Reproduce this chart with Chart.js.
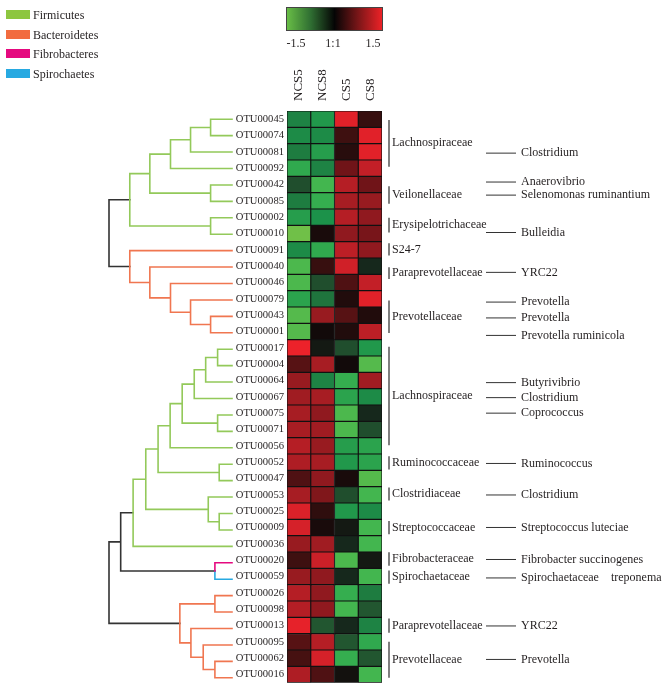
<!DOCTYPE html>
<html><head><meta charset="utf-8">
<script src="https://cdn.jsdelivr.net/npm/chart.js@4.4.1/dist/chart.umd.min.js"></script>
<style>
body{margin:0;background:#fff;font-family:"Liberation Serif","Times New Roman",serif;color:#231f20;}
#wrap{position:relative;width:666px;height:692px;overflow:hidden;background:#fff;}
canvas{position:absolute;left:0;top:0;}
.lg{position:absolute;left:6px;height:14px;font-size:12px;line-height:14px;white-space:nowrap;}
.lg i{position:absolute;left:0;top:2px;width:24px;height:9px;}
.lg span{position:absolute;left:27px;top:0;}
#cbar{position:absolute;left:286px;top:7px;width:95px;height:22px;border:1px solid #444;
 background:linear-gradient(to right,#68bd46 0%,#2f6e32 25%,#050505 50%,#7a1618 75%,#ec2227 100%);}
.cl{position:absolute;top:36px;font-size:12px;line-height:14px;transform:translateX(-50%);white-space:nowrap;}
</style></head>
<body><div id="wrap">
<canvas id="heat" width="666" height="692"></canvas>
<canvas id="dendro" width="666" height="692"></canvas>
<div id="legend"></div>
<div id="cbar"></div>
<div id="cticks"></div>
</div>
<script>
// ---------- data ----------
const otus = ['OTU00045','OTU00074','OTU00081','OTU00092','OTU00042','OTU00085','OTU00002','OTU00010',
 'OTU00091','OTU00040','OTU00046','OTU00079','OTU00043','OTU00001',
 'OTU00017','OTU00004','OTU00064','OTU00067','OTU00075','OTU00071','OTU00056','OTU00052','OTU00047',
 'OTU00053','OTU00025','OTU00009','OTU00036','OTU00020','OTU00059',
 'OTU00026','OTU00098','OTU00013','OTU00095','OTU00062','OTU00016'];
const columns = ['NCS5','NCS8','CS5','CS8'];
const ncs5 = [-0.8,-0.85,-0.75,-1.1,-0.45,-0.75,-1.0,-1.5,-0.85,-1.3,-1.3,-1.05,-1.35,-1.35,
 1.5,0.45,0.85,0.9,0.95,0.95,1.05,1.0,0.4,0.95,1.35,1.3,0.85,0.3,0.85,1.05,1.05,1.45,0.45,0.35,1.0];
const ncs8 = [-0.95,-0.85,-1.0,-0.8,-1.25,-1.15,-0.9,0.05,-1.1,0.25,-0.45,-0.7,0.85,0.0,
 -0.1,0.95,-0.8,0.95,0.8,0.9,0.85,0.95,0.8,0.7,0.2,0.05,0.9,1.2,0.8,0.8,0.8,-0.5,1.05,1.3,0.4];
const cs5 = [1.4,0.3,0.15,0.6,1.05,0.95,1.05,0.8,1.1,1.25,0.4,0.1,0.45,0.1,
 -0.45,0.0,-1.15,-1.05,-1.3,-1.3,-1.0,-0.95,0.05,-0.45,-0.95,-0.1,-0.2,-1.3,-0.2,-1.15,-1.25,-0.2,-0.5,-1.15,-0.05];
const cs8 = [0.25,1.4,1.4,1.15,0.6,0.85,0.8,0.65,0.8,-0.2,1.15,1.4,0.1,1.1,
 -0.95,-1.35,0.9,-0.85,-0.2,-0.45,-1.05,-1.05,-1.35,-1.25,-0.85,-1.25,-1.25,-0.1,-1.25,-0.75,-0.5,-0.8,-1.1,-0.5,-1.25];
const colorTicks = ['-1.5','1:1','1.5'];
const phyla = ['Firmicutes','Bacteroidetes','Fibrobacteres','Spirochaetes'];
const phylumColors = ['#8dc63f','#f26c3f','#e5097f','#27a9e1'];
const otuPhylum = [0,0,0,0,0,0,0,0,1,1,1,1,1,1,0,0,0,0,0,0,0,0,0,0,0,0,0,2,3,1,1,1,1,1,1];
// dendrograms: [height, left, right]
const treeTop = [1.0,
  [0.831,[0.668,[0.50,[0.337,[0.174,'OTU00045','OTU00074'],'OTU00081'],'OTU00092'],[0.174,'OTU00042','OTU00085']],[0.174,'OTU00002','OTU00010']],
  [0.831,'OTU00091',[0.668,'OTU00040',[0.50,'OTU00046',[0.337,'OTU00079',[0.174,'OTU00043','OTU00001']]]]]];
const treeBottom = [1.0,
  [0.905,[0.804,[0.701,[0.601,[0.503,[0.405,[0.307,[0.214,[0.117,'OTU00017','OTU00004'],'OTU00064'],'OTU00067'],[0.117,'OTU00075','OTU00071']],'OTU00056'],[0.104,'OTU00052','OTU00047']],
     [0.193,'OTU00053',[0.104,'OTU00025','OTU00009']]],'OTU00036'],[0.139,'OTU00020','OTU00059']],
  [0.424,[0.139,'OTU00026','OTU00098'],[0.334,'OTU00013',[0.234,'OTU00095',[0.139,'OTU00062','OTU00016']]]]];
// family brackets: [name, first row, last row]
const families = [['Lachnospiraceae',0.05,2.91],['Veilonellaceae',4.11,5.18],['Erysipelotrichaceae',6.03,6.94],
 ['S24-7',7.6,8.35],['Paraprevotellaceae',9.07,9.79],['Prevotellaceae',11.11,13.09],['Lachnospiraceae',13.94,19.97],
 ['Ruminococcaceae',20.64,21.45],['Clostridiaceae',22.55,23.35],['Streptococcaceae',24.6,25.41],
 ['Fibrobacteraceae',26.52,27.35],['Spirochaetaceae',27.64,28.45],['Paraprevotellaceae',30.58,31.45],['Prevotellaceae',32.0,34.2]];
const genera = [['Clostridium',2.08],['Anaerovibrio',3.85],['Selenomonas ruminantium',4.65],['Bulleidia',6.94],
 ['YRC22',9.38],['Prevotella',11.2],['Prevotella',12.17],['Prevotella ruminicola',13.24],
 ['Butyrivibrio',16.13],['Clostridium',17.05],['Coprococcus',18.0],['Ruminococcus',21.08],['Clostridium',23.01],
 ['Streptococcus luteciae',25.0],['Fibrobacter succinogenes',26.96],['Spirochaetaceae    treponema',28.09],
 ['YRC22',31.03],['Prevotella',33.08]];

// ---------- colour scale ----------
const stops = [[-1.5,[112,192,72]],[-1.2,[58,180,80]],[-0.9,[28,146,74]],[-0.5,[34,86,48]],[-0.2,[22,40,28]],
 [0,[18,10,10]],[0.3,[62,16,16]],[0.6,[112,20,24]],[0.9,[160,28,34]],[1.2,[202,32,40]],[1.5,[236,34,42]]];
function heatColor(v){
  v=Math.max(-1.5,Math.min(1.5,v));
  for(let i=0;i<stops.length-1;i++){
    const [a,ca]=stops[i],[b,cb]=stops[i+1];
    if(v>=a&&v<=b){const t=(v-a)/(b-a);
      return 'rgb('+ca.map((c,k)=>Math.round(c+(cb[k]-c)*t)).join(',')+')';}
  }
  return 'rgb(0,0,0)';
}

// ---------- legend & colour bar (HTML) ----------
const lg=document.getElementById('legend');
phyla.forEach((p,i)=>{const d=document.createElement('div');d.className='lg';d.style.top=(8+i*19.7)+'px';
  d.innerHTML='<i style="background:'+phylumColors[i]+'"></i><span>'+p+'</span>';lg.appendChild(d);});
const ct=document.getElementById('cticks');
colorTicks.forEach((t,i)=>{const d=document.createElement('div');d.className='cl';
  d.style.left=[296,333,373][i]+'px';d.textContent=t;ct.appendChild(d);});

// ---------- heatmap ----------
const colValues=[ncs5,ncs8,cs5,cs8];
const annot={id:'annot',afterDraw(chart){
  const {ctx,chartArea,scales:{y}}=chart;const R=chartArea.right;
  ctx.save();ctx.font='12px "Liberation Serif"';ctx.fillStyle='#231f20';ctx.textBaseline='middle';ctx.textAlign='left';
  families.forEach(([n,a,b])=>{const y1=y.getPixelForValue(a),y2=y.getPixelForValue(b);
    ctx.strokeStyle='#555';ctx.lineWidth=1.5;ctx.beginPath();ctx.moveTo(R+7,y1);ctx.lineTo(R+7,y2);ctx.stroke();
    ctx.fillText(n,R+10,(y1+y2)/2);});
  genera.forEach(([n,r])=>{const yy=y.getPixelForValue(r);
    ctx.strokeStyle='#333';ctx.lineWidth=1;ctx.beginPath();ctx.moveTo(R+104,yy);ctx.lineTo(R+134,yy);ctx.stroke();
    ctx.fillText(n,R+139,yy);});
  ctx.restore();}};
new Chart(document.getElementById('heat'),{
  type:'bar',
  data:{labels:otus,datasets:colValues.map((vals,j)=>({label:columns[j],data:otus.map(()=>[j,j+1]),
    backgroundColor:vals.map(heatColor),borderColor:'#111',borderWidth:0.9,borderSkipped:false,
    grouped:false,barPercentage:1,categoryPercentage:1}))},
  options:{indexAxis:'y',responsive:false,animation:false,devicePixelRatio:1,
    layout:{padding:{left:0,top:0,right:284,bottom:6}},
    plugins:{legend:{display:false},tooltip:{enabled:false}},
    scales:{
      y:{type:'category',grid:{display:false,drawTicks:false},border:{display:false},
        ticks:{autoSkip:false,padding:3,color:'#231f20',font:{family:'Liberation Serif',size:10.6}},
        afterFit(s){s.width=287;}},
      x:{type:'linear',position:'top',min:0,max:4,grid:{display:false,drawTicks:false},border:{display:false},
        afterBuildTicks(s){s.ticks=columns.map((c,i)=>({value:i+0.5}));},
        ticks:{autoSkip:false,minRotation:90,maxRotation:90,padding:10,labelOffset:15.6,color:'#231f20',
          font:{family:'Liberation Serif',size:13},callback:(v,i)=>columns[i]},
        afterFit(s){s.height=111;}}
    }},
  plugins:[annot]
});

// ---------- dendrogram ----------
const segs={0:[],1:[],2:[],3:[],k:[]};
function walk(node){
  if(typeof node==='string'){const i=otus.indexOf(node);return {h:0,y:i,ph:otuPhylum[i],leaf:true};}
  const [h,a,b]=node;const A=walk(a),B=walk(b);
  const pure=(A.ph===B.ph)?A.ph:-1;const y=(A.y+B.y)/2;
  [A,B].forEach(C=>{const key=C.leaf?C.ph:(pure<0?'k':pure);
    segs[key].push({x:h,y:y},{x:h,y:C.y},{x:C.h,y:C.y},{x:NaN,y:NaN});});
  return {h,y,ph:pure,leaf:false};
}
walk(treeTop);walk(treeBottom);
const treeColors={0:'#93c95a',1:'#f07650',2:'#e5097f',3:'#27a9e1',k:'#333333'};
new Chart(document.getElementById('dendro'),{
  type:'line',
  data:{datasets:Object.keys(segs).map(k=>({data:segs[k],borderColor:treeColors[k],borderWidth:1.6,
    pointRadius:0,spanGaps:false,tension:0,clip:false,borderCapStyle:'square',borderJoinStyle:'miter'}))},
  options:{responsive:false,animation:false,devicePixelRatio:1,
    layout:{padding:{left:109,right:434,top:111,bottom:6}},
    plugins:{legend:{display:false},tooltip:{enabled:false}},
    scales:{x:{type:'linear',min:0,max:1,reverse:true,display:false},
            y:{type:'linear',min:-0.5,max:34.5,reverse:true,display:false}}}
});
</script>
</body></html>
